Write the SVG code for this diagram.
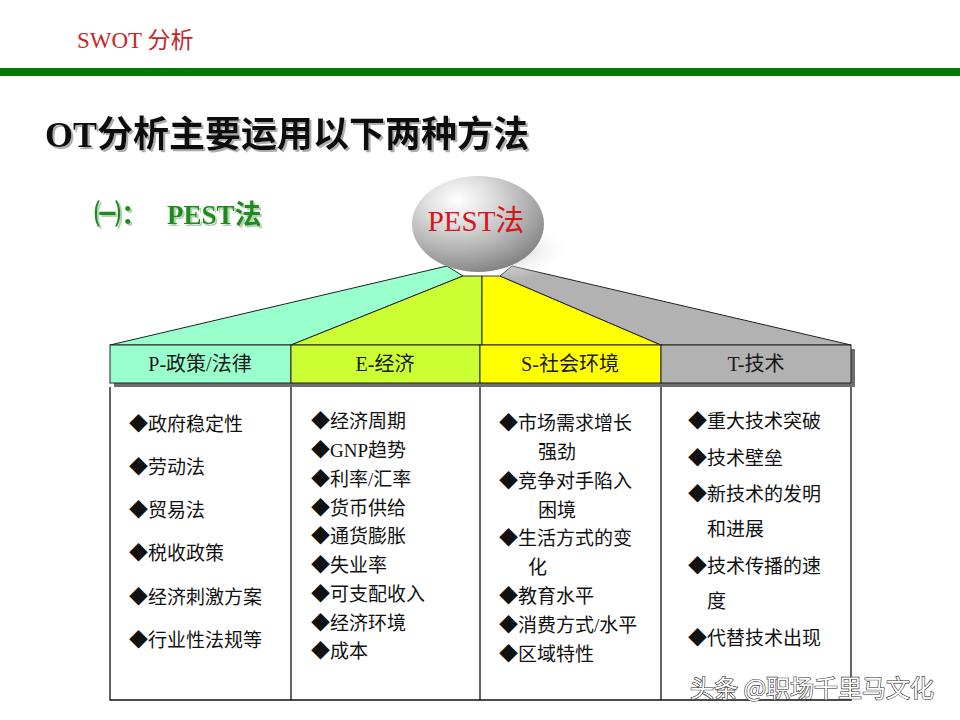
<svg xmlns="http://www.w3.org/2000/svg" width="960" height="720" viewBox="0 0 960 720">
<defs>
<style>
.serif{font-family:'Liberation Serif','Noto Sans CJK SC',serif}
.item{font-family:'Liberation Serif','Noto Sans CJK SC',serif;font-size:19px;fill:#111}
.hdr{font-family:'Liberation Serif','Noto Sans CJK SC',serif;font-size:20px;fill:#1a1a1a;text-anchor:middle}
.fan{stroke:#222;stroke-width:1;stroke-linejoin:round}
.cell{stroke:#222;stroke-width:1}
.line{stroke:#111;stroke-width:1.3;fill:none}
</style>
<filter id="shadow" x="-5%" y="-20%" width="110%" height="150%">
<feDropShadow dx="2" dy="2" stdDeviation="0.6" flood-color="#9a9a9a" flood-opacity="0.8"/>
</filter>
<filter id="gshadow" x="-5%" y="-20%" width="110%" height="150%">
<feDropShadow dx="2" dy="2" stdDeviation="0.6" flood-color="#a8cfa8" flood-opacity="0.9"/>
</filter>
<radialGradient id="ball" cx="0.35" cy="0.25" r="0.8">
<stop offset="0" stop-color="#ffffff"/>
<stop offset="0.3" stop-color="#e0e0e0"/>
<stop offset="0.7" stop-color="#acacac"/>
<stop offset="1" stop-color="#808080"/>
</radialGradient>
<radialGradient id="ballshadow" cx="0.5" cy="0.5" r="0.5">
<stop offset="0" stop-color="#bbbbbb"/>
<stop offset="1" stop-color="#ffffff" stop-opacity="0"/>
</radialGradient>
</defs>
<rect width="960" height="720" fill="#ffffff"/>

<g id="header">
<text x="77" y="48" class="serif" font-size="23" fill="#c8262b">SWOT 分析</text>
<rect x="0" y="68" width="960" height="8" fill="#037a03"/>
</g>

<g id="title">
<text x="45" y="147" class="serif" font-size="36" font-weight="bold" fill="#111" filter="url(#shadow)">OT分析主要运用以下两种方法</text>
<text x="94" y="224" class="serif" font-size="27" font-weight="bold" fill="#1e8c1e" filter="url(#gshadow)">㈠：</text>
<text x="167" y="224" class="serif" font-size="27" font-weight="bold" fill="#1e8c1e" filter="url(#gshadow)">PEST法</text>
</g>

<g id="connectors">
<polygon class="fan" points="110,345 447,266 463,276 291,345" fill="#99ffcc"/>
<polygon class="fan" points="291,345 463,276 482,276 482,345" fill="#ccff33"/>
<polygon class="fan" points="482,345 482,276 500,276 661,345" fill="#ffff00"/>
<polygon class="fan" points="661,345 500,276 512,266 851,345" fill="#b2b2b2"/>
</g>

<g id="pest-ball">
<ellipse cx="502" cy="250" rx="70" ry="30" fill="url(#ballshadow)"/>
<ellipse cx="478" cy="224" rx="66" ry="48" fill="url(#ball)"/>
<text x="476" y="231" class="serif" font-size="29" fill="#d8141c" text-anchor="middle">PEST法</text>
</g>

<g id="table-header">
<rect x="114" y="349" width="741" height="38" fill="#6e6e6e"/>
<rect class="cell" x="110" y="345" width="181" height="38" fill="#99ffcc"/>
<rect class="cell" x="291" y="345" width="189" height="38" fill="#ccff33"/>
<rect class="cell" x="480" y="345" width="181" height="38" fill="#ffff00"/>
<rect class="cell" x="661" y="345" width="190" height="38" fill="#b2b2b2"/>
</g>

<g id="col-p">
<text class="hdr" x="200" y="371">P-政策/法律</text>
<text class="item" x="129" y="431">◆政府稳定性</text>
<text class="item" x="129" y="474">◆劳动法</text>
<text class="item" x="129" y="517">◆贸易法</text>
<text class="item" x="129" y="560">◆税收政策</text>
<text class="item" x="129" y="604">◆经济刺激方案</text>
<text class="item" x="129" y="647">◆行业性法规等</text>
</g>

<g id="col-e">
<text class="hdr" x="385" y="371">E-经济</text>
<text class="item" x="311" y="428">◆经济周期</text>
<text class="item" x="311" y="457">◆GNP趋势</text>
<text class="item" x="311" y="486">◆利率/汇率</text>
<text class="item" x="311" y="515">◆货币供给</text>
<text class="item" x="311" y="543">◆通货膨胀</text>
<text class="item" x="311" y="572">◆失业率</text>
<text class="item" x="311" y="601">◆可支配收入</text>
<text class="item" x="311" y="630">◆经济环境</text>
<text class="item" x="311" y="658">◆成本</text>
</g>

<g id="col-s">
<text class="hdr" x="570" y="371">S-社会环境</text>
<text class="item" x="499" y="430">◆市场需求增长</text>
<text class="item" x="538" y="459">强劲</text>
<text class="item" x="499" y="488">◆竞争对手陷入</text>
<text class="item" x="538" y="517">困境</text>
<text class="item" x="499" y="545">◆生活方式的变</text>
<text class="item" x="528" y="574">化</text>
<text class="item" x="499" y="603">◆教育水平</text>
<text class="item" x="499" y="632">◆消费方式/水平</text>
<text class="item" x="499" y="661">◆区域特性</text>
</g>

<g id="col-t">
<text class="hdr" x="756" y="371">T-技术</text>
<text class="item" x="688" y="428">◆重大技术突破</text>
<text class="item" x="688" y="465">◆技术壁垒</text>
<text class="item" x="688" y="501">◆新技术的发明</text>
<text class="item" x="707" y="536">和进展</text>
<text class="item" x="688" y="573">◆技术传播的速</text>
<text class="item" x="707" y="608">度</text>
<text class="item" x="688" y="645">◆代替技术出现</text>
</g>

<g id="table-body">
<path class="line" d="M110,387 V700 H851 V387 M291,387 V700 M480,387 V700 M661,387 V700"/>
</g>

<g id="watermark">
<text x="690" y="697" font-family="'Noto Sans CJK SC',sans-serif" font-size="24" fill="#ffffff" stroke="#2a2a2a" stroke-width="1.2" paint-order="stroke">头条 @职场千里马文化</text>
</g>
</svg>
